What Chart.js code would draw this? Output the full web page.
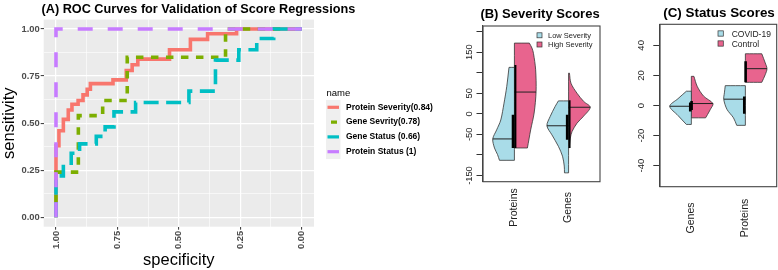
<!DOCTYPE html>
<html><head><meta charset="utf-8">
<script src="https://cdn.jsdelivr.net/npm/chart.js@4.4.1/dist/chart.umd.min.js"></script>
<style>
html,body{margin:0;padding:0;background:#fff;}
#wrap{position:relative;width:778px;height:270px;overflow:hidden;background:#fff;}
canvas{position:absolute;top:0;}
</style></head><body>
<div id="wrap">
<canvas id="cA" width="440" height="270" style="left:0px"></canvas>
<canvas id="cB" width="170" height="270" style="left:440px"></canvas>
<canvas id="cC" width="168" height="270" style="left:610px"></canvas>
</div>
<script>
// ---------------- Panel A: ROC curves (specificity, sensitivity) ----------------
const rocTitle = '(A) ROC Curves for Validation of Score Regressions';
const rocLegendTitle = 'name';
const rocNames = ['Protein Severity(0.84)', 'Gene Sevrity(0.78)', 'Gene Status (0.66)', 'Protein Status (1)'];
const proteinSeveritySpec = [1, 1, 0.988, 0.97, 0.95, 0.935, 0.91, 0.89, 0.873, 0.86, 0.768, 0.714, 0.69, 0.667, 0.538, 0.453, 0.383, 0.265, 0];
const proteinSeveritySens = [0, 0.38, 0.46, 0.52, 0.57, 0.60, 0.62, 0.65, 0.68, 0.71, 0.73, 0.78, 0.81, 0.84, 0.89, 0.945, 0.975, 1, 1];
const geneSeveritySpec = [1, 1, 0.909, 0.81, 0.71, 0.31, 0];
const geneSeveritySens = [0, 0.24, 0.54, 0.62, 0.85, 1, 1];
const geneStatusSpec = [1, 1, 0.97, 0.938, 0.904, 0.836, 0.80, 0.764, 0.676, 0.459, 0.351, 0.256, 0.183, 0.114, 0];
const geneStatusSens = [0, 0.22, 0.27, 0.34, 0.39, 0.43, 0.48, 0.56, 0.61, 0.67, 0.835, 0.89, 0.95, 1, 1];
const proteinStatusSpec = [1, 1, 0];
const proteinStatusSens = [0, 1, 1];
const rocTickValues = [0, 0.125, 0.25, 0.375, 0.5, 0.625, 0.75, 0.875, 1];

// ---------------- Panel B: Severity scores (split violins) ----------------
const sevTitle = '(B) Severity Scores';
const sevGroups = ['Proteins', 'Genes'];
const sevLegend = ['Low Severity', 'High Severity'];
const sevProteinsLowScore = [113, 66, 26, -15, -39, -61, -83, -99, -113];
const sevProteinsLowDensity = [0.25, 0.355, 0.48, 0.63, 0.82, 1.0, 0.92, 0.78, 0.69];
const sevProteinsHighScore = [172, 160, 147, 107, 54, 2, -39, -83];
const sevProteinsHighDensity = [0.69, 0.81, 0.88, 0.98, 1.0, 0.91, 0.75, 0.60];
const sevGenesLowScore = [31.5, 18, -6.5, -29, -51, -79, -103, -127, -143.5];
const sevGenesLowDensity = [0.47, 0.62, 0.85, 1.0, 0.77, 0.47, 0.28, 0.20, 0.19];
const sevGenesHighScore = [99, 74.5, 50, 30, 16, -6.5, -22.6, -43, -59, -83];
const sevGenesHighDensity = [0.04, 0.11, 0.39, 0.70, 1.0, 0.68, 0.39, 0.16, 0.08, 0.03];
const sevLowMedian = [-61, -29];
const sevHighMedian = [53, 16];
const sevLowBoxLo = [-83, -63], sevLowBoxHi = [-2, -2];
const sevHighBoxLo = [-83, -83], sevHighBoxHi = [119, 33];
const sevTicks = [-150, -100, -50, 0, 50, 100, 150, 200];
const sevTickLabels = ['-150', '', '-50', '0', '50', '', '150', ''];

// ---------------- Panel C: Status scores (split violins) ----------------
const statTitle = '(C) Status Scores';
const statGroups = ['Genes', 'Proteins'];
const statLegend = ['COVID-19', 'Control'];
const statGenesCovidScore = [9.5, 4.5, -0.5, -6.6, -12.6];
const statGenesCovidDensity = [0.23, 0.62, 1.0, 0.62, 0.23];
const statGenesControlScore = [19.4, 12.8, 6.2, 1.3, -2.6, -6, -8.2];
const statGenesControlDensity = [0.12, 0.27, 0.57, 1.0, 0.88, 0.75, 0.66];
const statProteinsCovidScore = [13.2, 8.4, 4, -2.6, -8.2, -13.2];
const statProteinsCovidDensity = [0.93, 0.97, 1.0, 0.85, 0.55, 0.40];
const statProteinsControlScore = [34.4, 28.3, 24.5, 20.5, 15.4];
const statProteinsControlDensity = [0.76, 0.92, 1.0, 0.92, 0.76];
const statCovidMedian = [-0.5, 4.2];
const statControlMedian = [1.3, 24.5];
const statCovidBoxLo = [-4, -5.5], statCovidBoxHi = [2, 6];
const statControlBoxLo = [-3, 15.5], statControlBoxHi = [3, 29.5];
const statTicks = [-40, -20, 0, 20, 40];
const statTickLabels = ['-40', '-20', '0', '20', '40'];

// ---------------- rendering ----------------
const FONT = "'Liberation Sans', Arial, Helvetica, sans-serif";
Chart.defaults.font.family = FONT;
Chart.defaults.animation = false;

const isMajor = v => Math.abs(v * 4 - Math.round(v * 4)) < 1e-6;
const rocStyles = [
  {color: '#F8766D', dash: [], keyDash: []},
  {color: '#7CAE00', dash: [7.5, 7.5], keyDash: [0, 3.5, 6, 100]},
  {color: '#00BFC4', dash: [15, 7.5], keyDash: []},
  {color: '#C77CFF', dash: [15, 15], keyDash: []}
];
const rocSpecs = [proteinSeveritySpec, geneSeveritySpec, geneStatusSpec, proteinStatusSpec];
const rocSens = [proteinSeveritySens, geneSeveritySens, geneStatusSens, proteinStatusSens];

const ggBg = {id: 'ggBg', beforeDraw(chart) {
  const {ctx, chartArea: a} = chart;
  ctx.save(); ctx.fillStyle = '#EBEBEB';
  ctx.fillRect(a.left, a.top, a.right - a.left, a.bottom - a.top); ctx.restore();
}};
const decorA = {id: 'decorA', afterDraw(chart) {
  const ctx = chart.ctx; ctx.save();
  ctx.fillStyle = '#000'; ctx.font = `bold 12.7px ${FONT}`; ctx.textBaseline = 'alphabetic'; ctx.textAlign = 'left';
  ctx.fillText(rocTitle, 41.5, 12.8);
  ctx.font = `9.5px ${FONT}`; ctx.fillText(rocLegendTitle, 326.5, 95.5);
  const top = 99.9, kh = 14.8, kx = 326, kw = 14.5;
  ctx.fillStyle = '#EFEFEF'; ctx.fillRect(kx, top, kw, kh * rocNames.length);
  rocNames.forEach((name, i) => {
    const cy = top + kh * (i + 0.5), st = rocStyles[i];
    ctx.strokeStyle = st.color; ctx.lineWidth = 3.2; ctx.lineCap = 'butt'; ctx.setLineDash(st.keyDash);
    ctx.beginPath(); ctx.moveTo(kx + 1.5, cy); ctx.lineTo(kx + kw - 1.5, cy); ctx.stroke();
    ctx.setLineDash([]);
    ctx.fillStyle = '#000'; ctx.font = `bold 8.5px ${FONT}`; ctx.textBaseline = 'middle';
    ctx.fillText(name, 346, cy);
  });
  ctx.restore();
}};

new Chart(document.getElementById('cA'), {
  type: 'line',
  data: {datasets: rocNames.map((name, i) => ({
    label: name,
    data: rocSpecs[i].map((s, j) => ({x: s, y: rocSens[i][j]})),
    borderColor: rocStyles[i].color, borderWidth: 3.6, borderDash: rocStyles[i].dash,
    borderCapStyle: 'butt', borderJoinStyle: 'miter',
    stepped: 'before', pointRadius: 0, fill: false, order: 3 - i
  }))},
  options: {
    responsive: false, animation: false, events: [],
    layout: {padding: {left: 0, top: 19.6, right: 126, bottom: 0}},
    plugins: {legend: {display: false}, tooltip: {enabled: false}, title: {display: false}},
    scales: {
      x: {type: 'linear', reverse: true, min: -0.05, max: 1.05,
        afterBuildTicks: sc => { sc.ticks = rocTickValues.map(v => ({value: v})); },
        afterFit: sc => { sc.height = 43.3; },
        ticks: {autoSkip: false, minRotation: 90, maxRotation: 90, padding: 1, color: '#4D4D4D',
          font: {size: 9.4, weight: 'bold'}, callback: v => isMajor(v) ? Number(v).toFixed(2) : ''},
        grid: {color: '#FFFFFF', lineWidth: c => (c.tick && isMajor(c.tick.value)) ? 1.2 : 0.6,
          drawTicks: true, tickLength: 3, tickWidth: 1,
          tickColor: c => (c.tick && isMajor(c.tick.value)) ? '#333333' : 'rgba(0,0,0,0)'},
        border: {display: false},
        title: {display: true, text: 'specificity', color: '#000', font: {size: 16.5, lineHeight: 1}, padding: {top: 0, bottom: 1}}
      },
      y: {type: 'linear', min: -0.05, max: 1.05,
        afterBuildTicks: sc => { sc.ticks = rocTickValues.map(v => ({value: v})); },
        afterFit: sc => { sc.width = 43.7; },
        ticks: {autoSkip: false, padding: 1, color: '#4D4D4D', font: {size: 9.4, weight: 'bold'},
          callback: v => isMajor(v) ? Number(v).toFixed(2) : ''},
        grid: {color: '#FFFFFF', lineWidth: c => (c.tick && isMajor(c.tick.value)) ? 1.2 : 0.6,
          drawTicks: true, tickLength: 3, tickWidth: 1,
          tickColor: c => (c.tick && isMajor(c.tick.value)) ? '#333333' : 'rgba(0,0,0,0)'},
        border: {display: false},
        title: {display: true, text: 'sensitivity', color: '#000', font: {size: 16.5, lineHeight: 1}, padding: {top: 1, bottom: 0}}
      }
    }
  },
  plugins: [ggBg, decorA]
});

// ---- violin helpers ----
const HALF_W = 0.40;           // max half-width of a half violin, in x units
const BLUE = '#A9DCE8', PINK = '#E8648E';
function interp(levels, dens, v) {
  for (let i = 0; i < levels.length - 1; i++) {
    const a = levels[i], b = levels[i + 1];
    if ((v <= a && v >= b) || (v >= a && v <= b)) { const t = (v - a) / (b - a || 1); return dens[i] + t * (dens[i + 1] - dens[i]); }
  }
  return dens[0];
}
function violinDatasets(halves) {
  const out = [];
  halves.forEach(h => {
    h.scores.forEach((levels, g) => {
      const c = g + 1, dens = h.dens[g], s = h.side, n = levels.length;
      const edge = levels.map((v, i) => ({x: c + s * dens[i] * HALF_W, y: v}));
      const topC = {x: c, y: levels[0]}, botC = {x: c, y: levels[n - 1]};
      // corners repeated so the smoothing keeps the flat cuts and centre line straight
      const pts = [topC, topC, edge[0], ...edge, edge[n - 1], botC, botC, topC, topC];
      out.push({data: pts, backgroundColor: h.color, borderColor: '#333', borderWidth: 0.8,
        fill: 'shape', pointRadius: 0, order: 10, tension: 0.3, borderJoinStyle: 'round'});
      const m = h.median[g], mw = interp(levels, dens, m) * HALF_W;
      out.push({data: [{x: c + s * mw, y: m}, {x: c, y: m}], borderColor: '#222', borderWidth: 1,
        fill: false, pointRadius: 0, order: 5});
      out.push({data: [{x: c + s * h.boxOff, y: h.boxLo[g]}, {x: c + s * h.boxOff, y: h.boxHi[g]}],
        borderColor: '#000', borderWidth: h.boxW, borderCapStyle: 'butt', fill: false, pointRadius: 0, order: 1});
    });
  });
  return out;
}
function decor(o) {
  return {id: 'decor' + o.key, afterDraw(chart) {
    const {ctx, chartArea: a, scales: {x, y}} = chart;
    ctx.save();
    ctx.strokeStyle = '#444'; ctx.lineWidth = 1.1; ctx.setLineDash([]);
    ctx.strokeRect(a.left, a.top, a.right - a.left, a.bottom - a.top);
    ctx.fillStyle = '#000'; ctx.font = `bold ${o.titleSize}px ${FONT}`; ctx.textAlign = 'center'; ctx.textBaseline = 'alphabetic';
    ctx.fillText(o.title, o.titleX, o.titleY);
    ctx.fillStyle = '#222'; ctx.font = `${o.tickSize}px ${FONT}`;
    o.ticks.forEach((v, i) => {
      const lab = o.tickLabels[i]; if (!lab) return;
      ctx.save(); ctx.translate(o.yLabelX, y.getPixelForValue(v)); ctx.rotate(-Math.PI / 2);
      ctx.textAlign = 'center'; ctx.textBaseline = 'alphabetic'; ctx.fillText(lab, 0, 0); ctx.restore();
    });
    ctx.font = `${o.catSize}px ${FONT}`;
    o.groups.forEach((gname, i) => {
      ctx.save(); ctx.translate(x.getPixelForValue(i + 1), o.catY); ctx.rotate(-Math.PI / 2);
      ctx.textAlign = 'center'; ctx.textBaseline = 'middle'; ctx.fillText(gname, 0, 0); ctx.restore();
    });
    o.legend.forEach((lab, i) => {
      const cy = o.legY + i * o.legStep;
      ctx.fillStyle = i === 0 ? BLUE : PINK; ctx.strokeStyle = '#333'; ctx.lineWidth = 0.7;
      ctx.fillRect(o.legX, cy - o.sq / 2, o.sq, o.sq); ctx.strokeRect(o.legX, cy - o.sq / 2, o.sq, o.sq);
      ctx.fillStyle = '#222'; ctx.font = `${o.legSize}px ${FONT}`; ctx.textAlign = 'left'; ctx.textBaseline = 'alphabetic';
      ctx.fillText(lab, o.legTextX, cy + o.legSize * 0.36);
    });
    ctx.restore();
  }};
}
function violinChart(id, datasets, yMin, yMax, ticks, pad, yWidth, tickLen, deco) {
  return new Chart(document.getElementById(id), {
    type: 'line',
    data: {datasets},
    options: {
      responsive: false, animation: false, events: [],
      layout: {padding: pad},
      plugins: {legend: {display: false}, tooltip: {enabled: false}},
      scales: {
        x: {type: 'linear', min: 0.42, max: 2.58, display: false},
        y: {type: 'linear', min: yMin, max: yMax,
          afterBuildTicks: sc => { sc.ticks = ticks.map(v => ({value: v})); },
          afterFit: sc => { sc.width = yWidth; },
          ticks: {display: false},
          grid: {drawOnChartArea: false, drawTicks: true, tickLength: tickLen, tickColor: '#333', tickWidth: 1},
          border: {display: true, color: '#444', width: 1.1}}
      }
    },
    plugins: [deco]
  });
}

violinChart('cB', violinDatasets([
  {side: -1, color: BLUE, scores: [sevProteinsLowScore, sevGenesLowScore], dens: [sevProteinsLowDensity, sevGenesLowDensity],
   median: sevLowMedian, boxLo: sevLowBoxLo, boxHi: sevLowBoxHi, boxOff: 0.025, boxW: 2.7},
  {side: 1, color: PINK, scores: [sevProteinsHighScore, sevGenesHighScore], dens: [sevProteinsHighDensity, sevGenesHighDensity],
   median: sevHighMedian, boxLo: sevHighBoxLo, boxHi: sevHighBoxHi, boxOff: 0.018, boxW: 2.0}
]), -165, 213.6, sevTicks, {left: 0, top: 26, right: 10, bottom: 88.3}, 43, 6.5,
  decor({key: 'B', title: sevTitle, titleSize: 13, titleX: 100, titleY: 18.3, tickSize: 9.3, ticks: sevTicks,
    tickLabels: sevTickLabels, yLabelX: 31.5, groups: sevGroups, catSize: 10.5, catY: 207.5, legend: sevLegend,
    legX: 97, legY: 35.3, legStep: 9.2, sq: 5, legTextX: 108, legSize: 7.5}));

violinChart('cC', violinDatasets([
  {side: -1, color: BLUE, scores: [statGenesCovidScore, statProteinsCovidScore], dens: [statGenesCovidDensity, statProteinsCovidDensity],
   median: statCovidMedian, boxLo: statCovidBoxLo, boxHi: statCovidBoxHi, boxOff: 0.02, boxW: 2.6},
  {side: 1, color: PINK, scores: [statGenesControlScore, statProteinsControlScore], dens: [statGenesControlDensity, statProteinsControlDensity],
   median: statControlMedian, boxLo: statControlBoxLo, boxHi: statControlBoxHi, boxOff: 0.005, boxW: 2.6}
]), -54, 54, statTicks, {left: 0, top: 24.3, right: 1.3, bottom: 83.3}, 50, 6.7,
  decor({key: 'C', title: statTitle, titleSize: 13.4, titleX: 109, titleY: 16.7, tickSize: 9.5, ticks: statTicks,
    tickLabels: statTickLabels, yLabelX: 33.5, groups: statGroups, catSize: 10.5, catY: 218, legend: statLegend,
    legX: 108, legY: 33.5, legStep: 10, sq: 5.3, legTextX: 121.7, legSize: 8.5}));
</script>
</body></html>
